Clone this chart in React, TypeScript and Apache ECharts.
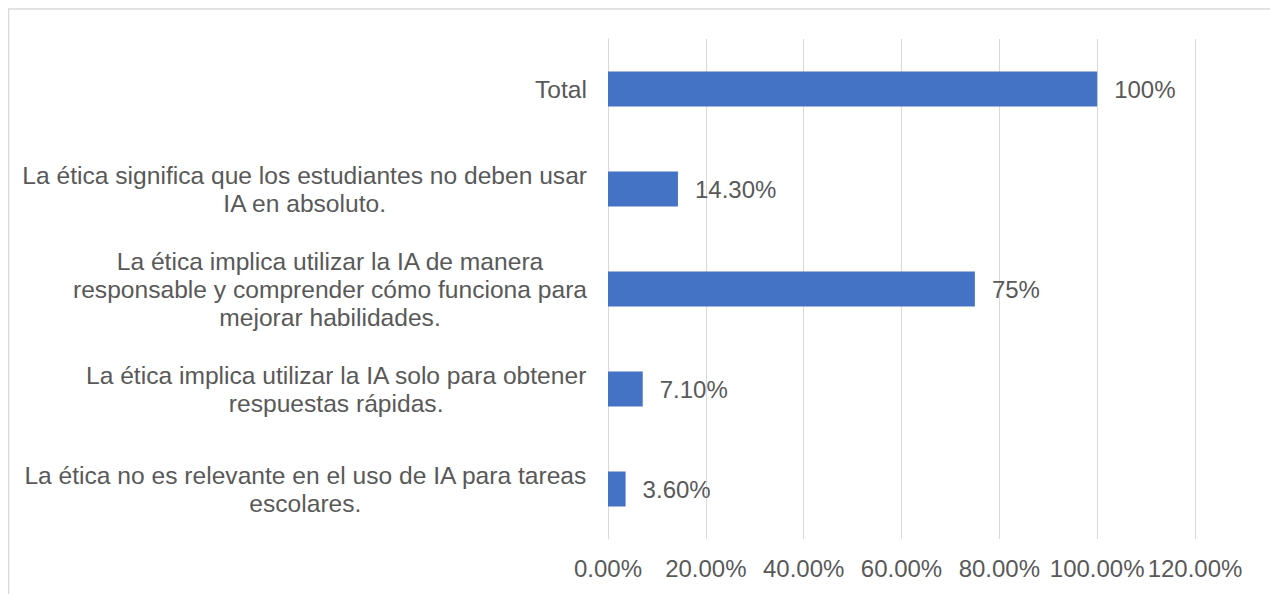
import React, { useEffect, useRef } from "react";
import * as echarts from "echarts";

const categories: string[] = [
  "Total",
  "La ética significa que los estudiantes no deben usar\nIA en absoluto.",
  "La ética implica utilizar la IA de manera\nresponsable y comprender cómo funciona para\nmejorar habilidades.",
  "La ética implica utilizar la IA solo para obtener\nrespuestas rápidas.",
  "La ética no es relevante en el uso de IA para tareas\nescolares.",
];
const values: number[] = [100, 14.3, 75, 7.1, 3.6];
const valueLabels: string[] = ["100%", "14.30%", "75%", "7.10%", "3.60%"];
const xTickLabels: string[] = ["0.00%", "20.00%", "40.00%", "60.00%", "80.00%", "100.00%", "120.00%"];

const FONT = "'Liberation Sans', Arial, sans-serif";
const TEXT = "#595959";
const GRID = "#d9d9d9";

export default function App() {
  const ref = useRef<HTMLDivElement>(null);
  useEffect(() => {
    if (!ref.current) return;
    const chart = echarts.init(ref.current, undefined, { renderer: "svg" });
    chart.setOption({
      animation: false,
      textStyle: { fontFamily: FONT },
      graphic: [
        {
          type: "rect",
          shape: { x: 0.5, y: 1, width: 1400, height: 800 },
          style: { fill: "none", stroke: GRID, lineWidth: 1.5 },
          silent: true,
        },
      ],
      grid: { left: 600, right: 75, top: 31, bottom: 55, containLabel: false },
      xAxis: {
        type: "value",
        min: 0,
        max: 120,
        interval: 20,
        axisLine: { show: false },
        axisTick: { show: false },
        splitLine: { show: true, lineStyle: { color: GRID, width: 1 } },
        axisLabel: {
          color: TEXT,
          fontSize: 24,
          fontFamily: FONT,
          margin: 17,
          formatter: (v: number) => xTickLabels[Math.round(v / 20)] ?? "",
        },
      },
      yAxis: {
        type: "category",
        inverse: true,
        data: categories,
        axisLine: { show: true, lineStyle: { color: GRID, width: 1 } },
        axisTick: { show: false },
        axisLabel: {
          margin: 21,
          color: TEXT,
          fontSize: 24.6,
          fontFamily: FONT,
          lineHeight: 28,
          formatter: (v: string) =>
            v
              .split("\n")
              .map((l) => `{c|${l}}`)
              .join("\n"),
          rich: {
            c: {
              align: "center",
              color: TEXT,
              fontSize: 24.6,
              fontFamily: FONT,
              lineHeight: 28,
            },
          },
        },
      },
      series: [
        {
          type: "bar",
          data: values,
          barWidth: 35,
          itemStyle: { color: "#4472C4" },
          label: {
            show: true,
            position: "right",
            distance: 17,
            color: TEXT,
            fontSize: 24,
            fontFamily: FONT,
            formatter: (p: any) => valueLabels[p.dataIndex],
          },
        },
      ],
    });
    return () => chart.dispose();
  }, []);
  return (
    <div
      ref={ref}
      style={{ position: "absolute", left: 8, top: 8, width: 1262, height: 586 }}
    />
  );
}
